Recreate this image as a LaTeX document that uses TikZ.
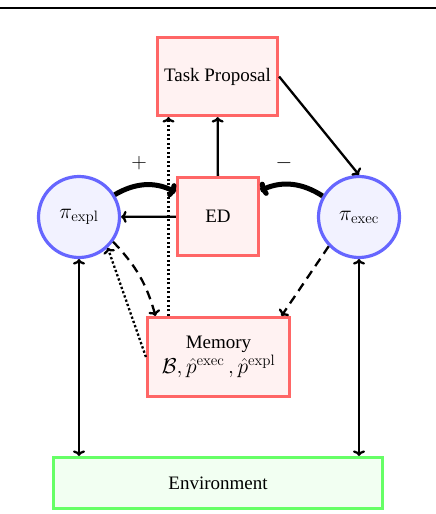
\RequirePackage{fix-cm}
\documentclass[tikz,border=0pt]{standalone}
\usepackage{amsmath}
\usepackage[no-math]{fontspec}
\setmainfont{Liberation Serif}
\usetikzlibrary{calc,arrows.meta}
\newcommand{\mfs}{\fontsize{21.5}{26}\selectfont}
\tikzset{
  txt/.style={font=\fontsize{19}{24}\selectfont, align=center, inner sep=0pt},
  redbox/.style={txt, draw=red!60, fill=red!5, line width=3.2pt},
  bluecirc/.style={txt, circle, draw=blue!60, fill=blue!5, line width=3.2pt, minimum size=81pt},
  greenbox/.style={txt, draw=green!60, fill=green!5, line width=3.2pt},
  arr/.style={-{To[length=5.5pt,width=12pt]}, line width=2.3pt},
  thickarr/.style={-{To[length=7pt,width=15pt]}, line width=5pt},
  dotarr/.style={-{To[length=5.5pt,width=12pt]}, line width=2.3pt, dash pattern=on 2.3pt off 2.2pt},
  dasharr/.style={-{To[length=5.5pt,width=12pt]}, line width=2.3pt, dash pattern=on 9pt off 6pt},
  bothway/.style={{To[length=5.5pt,width=12pt]}-{To[length=5.5pt,width=12pt]}, line width=2.3pt},
}
\begin{document}
\begin{tikzpicture}[x=1pt,y=-1pt]
\useasboundingbox (0,0) rectangle (436,514);
\draw[line width=2.8pt] (0,8) -- (436,8);

\node[redbox, minimum width=120pt, minimum height=78pt] (task) at (217.5,76.5) {Task Proposal};
\node[redbox, minimum width=81pt, minimum height=78pt] (ed) at (218,216.5) {ED};
\node[redbox, minimum width=142pt, minimum height=79pt] (mem) at (218.5,357) {Memory\\[1pt] {\mfs$\mathcal{B}, \hat{p}^{\mathrm{exec}}\,, \hat{p}^{\mathrm{expl}}$}};
\node[greenbox, minimum width=329pt, minimum height=51pt] (env) at (218,483) {Environment};
\node[bluecirc] (expl) at (79,217) {\mfs$\pi_{\mathrm{expl}}$};
\node[bluecirc] (exec) at (359,217) {\mfs$\pi_{\mathrm{exec}}$};

\node[txt] (plus) at (139,163) {\mfs$+$};
\node[txt] (minus) at (284,163) {\mfs$-$};

\draw[arr] (ed) -- (task);
\draw[arr] (task.east) -- (exec.north);
\draw[arr] (ed) -- (expl);
\draw[thickarr] (expl.32) to[bend left=28] ($(ed.north west)!0.2!(ed.south west)$);
\draw[thickarr] (exec.150) to[bend right=28] ($(ed.north east)!0.18!(ed.south east)$);

\draw[dotarr] ([xshift=-50pt]mem.north) -- ([xshift=-50pt]mem.north |- task.south);
\draw[dasharr] (expl.-36) to[bend left=14] ([xshift=-63pt]mem.north);
\draw[dotarr] (mem.west) -- (expl.-47);
\draw[dasharr] (exec.-136) -- ([xshift=63pt]mem.north);

\draw[bothway] (expl.south) -- (expl.south |- env.north);
\draw[bothway] (exec.south) -- (exec.south |- env.north);
\end{tikzpicture}
\end{document}
